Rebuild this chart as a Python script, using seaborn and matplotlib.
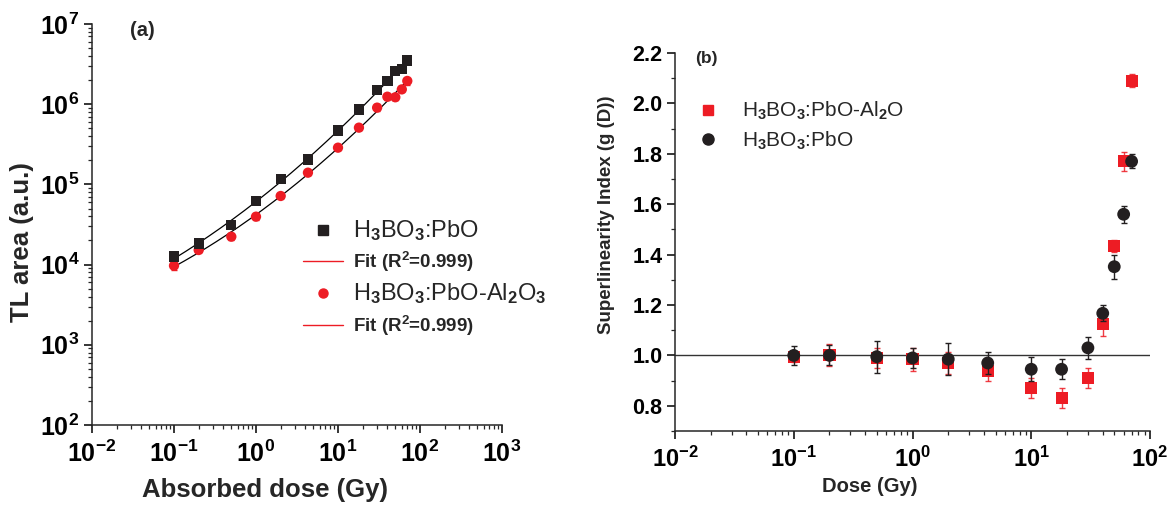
import numpy as np
import pandas as pd
import matplotlib
matplotlib.use("Agg")
import matplotlib.pyplot as plt
import seaborn as sns
from matplotlib.lines import Line2D
from matplotlib.ticker import LogLocator, MultipleLocator, FuncFormatter, NullFormatter, FormatStrFormatter

# ---------------- data ----------------
dose = [0.1, 0.2, 0.5, 1, 2, 4.3, 10, 18, 30, 40, 50, 60, 70]

tl_pbo = [1.26e4, 1.84e4, 3.09e4, 6.27e4, 1.16e5, 2.05e5, 4.68e5, 8.6e5, 1.50e6, 1.93e6, 2.62e6, 2.72e6, 3.52e6]
tl_pbo_err = [5e2, 8e2, 1.5e3, 2.5e3, 4e3, 8e3, 2e4, 3e4, 6e4, 6e4, 8e4, 8e4, 1e5]
tl_al = [9.7e3, 1.52e4, 2.23e4, 3.96e4, 7.17e4, 1.40e5, 2.87e5, 5.1e5, 9.06e5, 1.24e6, 1.22e6, 1.53e6, 1.95e6]
tl_al_err = [1.2e3, 1.0e3, 1.8e3, 4e3, 4e3, 8e3, 1.5e4, 4e4, 9e4, 1.0e5, 1.0e5, 9e4, 2e5]

g_al = [0.995, 1.0, 0.99, 0.985, 0.97, 0.94, 0.87, 0.83, 0.91, 1.125, 1.435, 1.77, 2.09]
g_al_err = [0.02, 0.044, 0.04, 0.046, 0.042, 0.04, 0.04, 0.04, 0.04, 0.048, 0.024, 0.038, 0.025]
g_pbo = [1.0, 1.0, 0.995, 0.99, 0.985, 0.97, 0.945, 0.945, 1.03, 1.167, 1.352, 1.56, 1.77]
g_pbo_err = [0.038, 0.04, 0.063, 0.04, 0.063, 0.042, 0.048, 0.04, 0.044, 0.032, 0.048, 0.034, 0.028]

lbl_pbo = "H$_3$BO$_3$:PbO"
lbl_al_a = "H$_3$BO$_3$:PbO-Al$_2$O$_3$"
lbl_al_b = "H$_3$BO$_3$:PbO-Al$_2$O"
lbl_fit = "Fit (R$^2$=0.999)"

RED = "#ED1C24"
BLK = "#231F20"

# ---------------- style ----------------
sns.set_theme(style="ticks")
plt.rcParams["font.family"] = ["Liberation Sans", "DejaVu Sans"]
plt.rcParams["font.weight"] = "bold"
plt.rcParams["mathtext.fontset"] = "custom"
plt.rcParams["mathtext.rm"] = "Liberation Sans"
plt.rcParams["mathtext.bf"] = "Liberation Sans:bold"
plt.rcParams["mathtext.it"] = "Liberation Sans:italic"
plt.rcParams["axes.linewidth"] = 1.1

W, H = 1171, 508
fig = plt.figure(figsize=(W / 100, H / 100), dpi=100)

def px_axes(x0, y0, x1, y1):
    return fig.add_axes([x0 / W, 1 - y1 / H, (x1 - x0) / W, (y1 - y0) / H])

axA = px_axes(92, 24, 502, 425)
axB = px_axes(675, 53, 1150, 431)

df = pd.DataFrame({"dose": dose, "pbo": tl_pbo, "al": tl_al, "g_al": g_al, "g_pbo": g_pbo})

# ---------------- panel (a) ----------------
axA.set_xscale("log")
axA.set_yscale("log")
axA.set_xlim(1e-2, 1e3)
axA.set_ylim(1e2, 1e7)

# quadratic fits in log-log space
xf = np.logspace(np.log10(min(dose)), np.log10(max(dose)), 200)
for ys in (tl_pbo, tl_al):
    c = np.polyfit(np.log10(dose), np.log10(ys), 2)
    yf = 10 ** np.polyval(c, np.log10(xf))
    sns.lineplot(x=xf, y=yf, color="black", lw=0.9, ax=axA, zorder=2)

axA.errorbar(dose, tl_al, yerr=tl_al_err, fmt="none", ecolor=RED, elinewidth=1, capsize=2, zorder=3)
axA.errorbar(dose, tl_pbo, yerr=tl_pbo_err, fmt="none", ecolor=BLK, elinewidth=1, capsize=2, zorder=3)
sns.scatterplot(data=df, x="dose", y="al", marker="o", s=55, color=RED, edgecolor="none", ax=axA, zorder=4, legend=False)
sns.scatterplot(data=df, x="dose", y="pbo", marker="s", s=55, color=BLK, edgecolor="none", ax=axA, zorder=5, legend=False)

logfmt = FuncFormatter(lambda v, p: r"$\mathbf{10^{%d}}$" % int(round(np.log10(v))))
axA.xaxis.set_major_locator(LogLocator(base=10, numticks=10))
axA.yaxis.set_major_locator(LogLocator(base=10, numticks=10))
axA.xaxis.set_minor_locator(LogLocator(base=10, subs=np.arange(2, 10), numticks=20))
axA.yaxis.set_minor_locator(LogLocator(base=10, subs=np.arange(2, 10), numticks=20))
axA.xaxis.set_major_formatter(logfmt)
axA.yaxis.set_major_formatter(logfmt)
axA.xaxis.set_minor_formatter(NullFormatter())
axA.yaxis.set_minor_formatter(NullFormatter())
axA.tick_params(which="major", direction="out", length=6, width=1.1, labelsize=18, colors="black")
axA.tick_params(which="minor", direction="out", length=3, width=0.9)
axA.tick_params(axis="x", which="major", pad=5)
axA.tick_params(axis="y", which="major", pad=3)
sns.despine(ax=axA)

axA.set_xlabel("Absorbed dose (Gy)", fontsize=18.5, fontweight="bold")
axA.set_ylabel("TL area (a.u.)", fontsize=18.5, fontweight="bold")
axA.xaxis.label.set_va("center")
axA.yaxis.label.set_va("center")
axA.xaxis.set_label_coords((265 - 92) / 410, (425 - 490) / 401)
axA.yaxis.set_label_coords((22 - 92) / 410, (425 - 242) / 401)

axA.text((142 - 92) / 410, (425 - 30) / 401, "(a)", transform=axA.transAxes, fontsize=14.5,
         fontweight="bold", ha="center", va="center")

hA = [Line2D([], [], marker="s", color=BLK, ls="none", ms=6.5),
      Line2D([], [], color=RED, lw=1),
      Line2D([], [], marker="o", color=RED, ls="none", ms=6.5),
      Line2D([], [], color=RED, lw=1)]
legA = fig.legend(hA, [lbl_pbo, lbl_fit, lbl_al_a, lbl_fit], loc="upper left",
                  bbox_to_anchor=(303 / W, 1 - 218 / H), bbox_transform=fig.transFigure,
                  frameon=False, fontsize=15, handlelength=1.9, handletextpad=0.5,
                  labelspacing=0.35, borderpad=0, borderaxespad=0)
for i, t in enumerate(legA.get_texts()):
    if i in (0, 2):
        t.set_fontweight("normal")
        t.set_fontsize(17)
    else:
        t.set_fontweight("bold")
        t.set_fontsize(13.5)

# ---------------- panel (b) ----------------
axB.set_xscale("log")
axB.set_xlim(1e-2, 1e2)
axB.set_ylim(0.7, 2.2)
axB.axhline(1.0, color="#333333", lw=1, zorder=1)

axB.errorbar(dose, g_al, yerr=g_al_err, fmt="none", ecolor=RED, elinewidth=1, capsize=2.5, alpha=0.85, zorder=2)
sns.scatterplot(data=df, x="dose", y="g_al", marker="s", s=75, color=RED, edgecolor="none", ax=axB, zorder=3, legend=False)
axB.errorbar(dose, g_pbo, yerr=g_pbo_err, fmt="none", ecolor=BLK, elinewidth=1, capsize=2.5, zorder=4)
sns.scatterplot(data=df, x="dose", y="g_pbo", marker="o", s=85, color=BLK, edgecolor="none", ax=axB, zorder=5, legend=False)

axB.xaxis.set_major_locator(LogLocator(base=10, numticks=10))
axB.xaxis.set_minor_locator(LogLocator(base=10, subs=np.arange(2, 10), numticks=20))
axB.xaxis.set_major_formatter(logfmt)
axB.xaxis.set_minor_formatter(NullFormatter())
axB.yaxis.set_major_locator(MultipleLocator(0.2))
axB.yaxis.set_minor_locator(MultipleLocator(0.1))
axB.yaxis.set_major_formatter(FormatStrFormatter("%.1f"))
axB.set_yticks(np.round(np.arange(0.8, 2.21, 0.2), 1))
axB.tick_params(which="major", direction="out", length=6, width=1.1, colors="black")
axB.tick_params(which="minor", direction="out", length=3, width=0.9)
axB.tick_params(axis="x", which="major", labelsize=17, pad=5)
axB.tick_params(axis="y", which="major", labelsize=15.5, pad=3)
sns.despine(ax=axB)

axB.set_xlabel("Dose (Gy)", fontsize=14.5, fontweight="bold")
axB.set_ylabel("Superlinearity Index (g (D))", fontsize=13.5, fontweight="bold")
axB.xaxis.label.set_va("center")
axB.yaxis.label.set_va("center")
axB.xaxis.set_label_coords((870 - 675) / 475, (431 - 487) / 378)
axB.yaxis.set_label_coords((606 - 675) / 475, (431 - 215) / 378)

axB.text((706 - 675) / 475, (431 - 59) / 378, "(b)", transform=axB.transAxes, fontsize=12.5,
         fontweight="bold", ha="center", va="center")

hB = [Line2D([], [], marker="s", color=RED, ls="none", ms=7.5),
      Line2D([], [], marker="o", color=BLK, ls="none", ms=8)]
legB = fig.legend(hB, [lbl_al_b, lbl_pbo], loc="upper left",
                  bbox_to_anchor=(698 / W, 1 - 100 / H), bbox_transform=fig.transFigure,
                  frameon=False, fontsize=15, handlelength=1.0, handletextpad=1.1,
                  labelspacing=0.35, borderpad=0, borderaxespad=0)
for t in legB.get_texts():
    t.set_fontweight("normal")

fig.savefig("out.png", dpi=100)
